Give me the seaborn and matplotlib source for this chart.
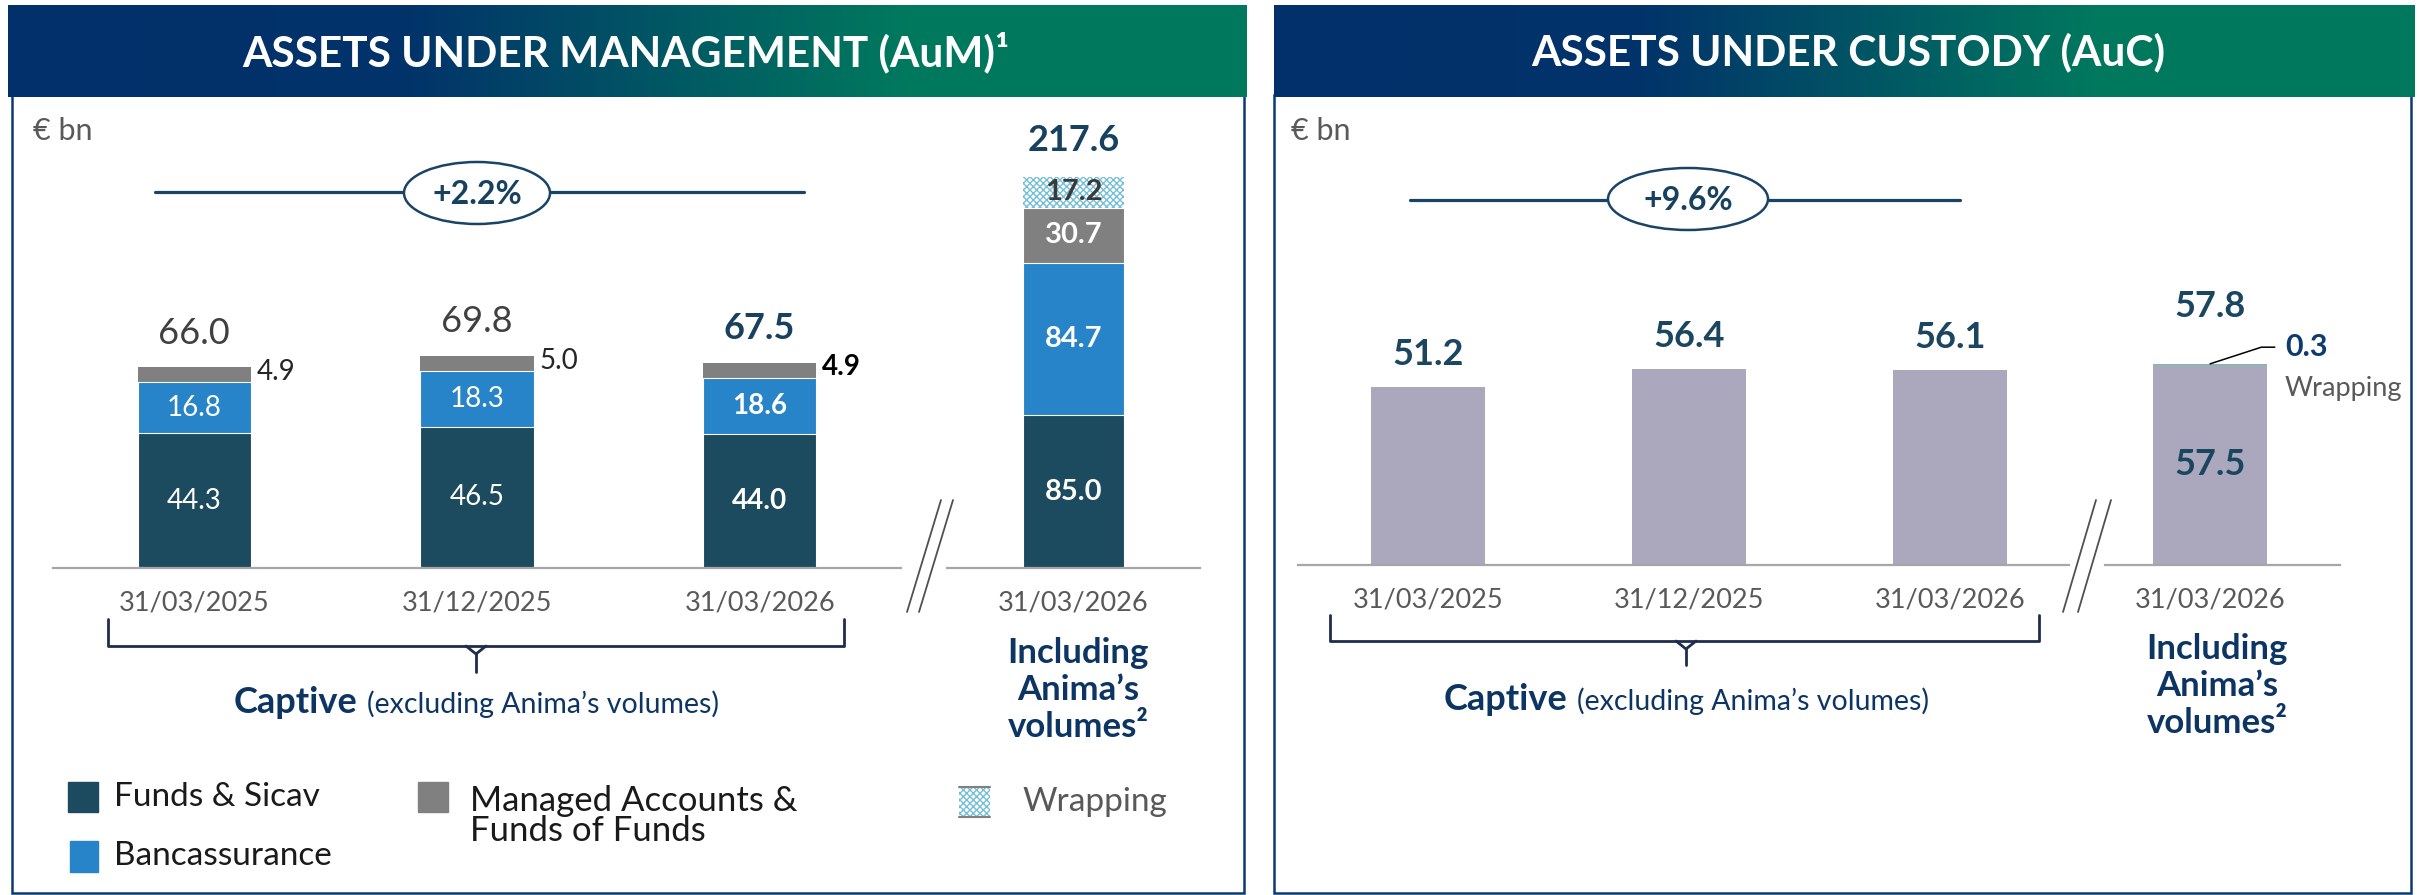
import numpy as np
import pandas as pd
import matplotlib
matplotlib.use("Agg")
import matplotlib.pyplot as plt
import seaborn as sns
from matplotlib.patches import Rectangle, Ellipse
from matplotlib.lines import Line2D
from matplotlib.colors import LinearSegmentedColormap

# ---------------- data (€ bn) ----------------
captive_dates = ["31/03/2025", "31/12/2025", "31/03/2026"]
total_dates = ["31/03/2026"]

aum_funds = [44.3, 46.5, 44.0]
aum_bancassurance = [16.8, 18.3, 18.6]
aum_managed = [4.9, 5.0, 4.9]
aum_totals = [66.0, 69.8, 67.5]

aum_all_funds = [85.0]
aum_all_bancassurance = [84.7]
aum_all_managed = [30.7]
aum_all_wrapping = [17.2]
aum_all_total = [217.6]

auc_captive = [51.2, 56.4, 56.1]
auc_all_base = [57.5]
auc_all_wrapping = [0.3]
auc_all_total = [57.8]

aum_growth = "+2.2%"
auc_growth = "+9.6%"

# ---------------- style ----------------
sns.set_theme(style="white")
plt.rcParams["font.family"] = ["Lato", "DejaVu Sans"]
plt.rcParams["hatch.linewidth"] = 1.0

C_FUNDS = "#1c4a5e"
C_BANC = "#2884c8"
C_MANAGED = "#808080"
C_WRAP = "#74bfd6"
C_AUC = "#aba8bd"
C_AUC_WRAP = "#6cc5a5"
NAVY = "#17415f"
NAVY2 = "#0d3563"
GREY_TXT = "#595959"
BORDER = "#0b3a6e"
WRAP_HATCH = "xxxxx"

W, H = 2419, 895
fig = plt.figure(figsize=(24.1901, 8.9501), dpi=100)
fig.patch.set_facecolor("white")

# overlay axes in pixel units (y downward) for frames, headers, brackets
ov = fig.add_axes([0, 0, 1, 1], zorder=0)
ov.axis("off")

band_cmap = LinearSegmentedColormap.from_list(
    "band", [(0, "#02306a"), (0.32, "#02336a"), (0.72, "#00785e"), (1, "#00795d")])
grad = np.linspace(0, 1, 512)[None, :]
for x0, x1 in [(8, 1246), (1274, 2414)]:
    ov.imshow(grad, cmap=band_cmap, extent=(x0, x1, 97, 6), aspect="auto",
              interpolation="bilinear", zorder=1)
ov.set_xlim(0, W)
ov.set_ylim(H, 0)

ov.add_patch(Rectangle((12, 95), 1232, 798, fill=False, ec=BORDER, lw=1.8, zorder=0))
ov.add_patch(Rectangle((1274, 95), 1137, 798, fill=False, ec=BORDER, lw=1.8, zorder=0))

ov.text(626, 52, "ASSETS UNDER MANAGEMENT (AuM)¹", color="white", fontsize=30.5,
        fontweight="bold", ha="center", va="center", zorder=3)
ov.text(1848, 52, "ASSETS UNDER CUSTODY (AuC)", color="white", fontsize=30.5,
        fontweight="bold", ha="center", va="center", zorder=3)

ov.text(33, 131, "€ bn", color=GREY_TXT, fontsize=22, ha="left", va="center")
ov.text(1291, 131, "€ bn", color=GREY_TXT, fontsize=22, ha="left", va="center")

# growth markers
for (lx0, lx1, ly, cx, cy, ew, eh, txt) in [
        (155, 804, 192, 477, 193, 146, 62, aum_growth),
        (1410, 1960, 200, 1688, 199, 160, 62, auc_growth)]:
    ov.add_line(Line2D([lx0, lx1], [ly, ly], color="#1a4466", lw=2.3, zorder=2))
    ov.add_patch(Ellipse((cx, cy), ew, eh, fc="white", ec="#1a4466", lw=1.8, zorder=3))
    ov.text(cx, cy + 1, txt, color=NAVY, fontsize=23, fontweight="bold",
            ha="center", va="center", zorder=4)

# axis breaks
for (xa, xb) in [(941, 907), (953, 919), (2096, 2063), (2111, 2078)]:
    ov.add_line(Line2D([xa, xb], [500, 612], color="#505050", lw=1.3, zorder=3))

# captive brackets
def bracket(x0, x1, xm, ytop, ybar, ytail):
    c = "#1f2d4d"
    ov.add_line(Line2D([x0, x0, x1, x1], [ytop, ybar, ybar, ytop], color=c, lw=2.0))
    ov.add_line(Line2D([xm - 10, xm, xm + 10], [ybar, ybar + 8, ybar], color=c, lw=2.0))
    ov.add_line(Line2D([xm, xm], [ybar + 8, ytail], color=c, lw=2.0))

bracket(108, 844, 476, 619, 646, 672)
bracket(1330, 2039, 1686, 615, 641, 665)

renderer = fig.canvas.get_renderer()


def composite(cx, cy, parts, gap=10):
    texts = [ov.text(0, cy, s, ha="left", va="baseline", **kw) for s, kw in parts]
    widths = [t.get_window_extent(renderer).width for t in texts]
    x = cx - (sum(widths) + gap * (len(texts) - 1)) / 2
    for t, w in zip(texts, widths):
        t.set_x(x)
        x += w + gap


for cx, cy in [(476, 713), (1686, 710)]:
    composite(cx, cy, [("Captive", dict(fontsize=26, fontweight="bold", color=NAVY2)),
                       ("(excluding Anima’s volumes)", dict(fontsize=20.5, color=NAVY2))])

for cx, cy in [(1078, 690), (2217, 686)]:
    ov.text(cx, cy, "Including\nAnima’s\nvolumes²", fontsize=25, fontweight="bold",
            color=NAVY2, ha="center", va="center", multialignment="center",
            linespacing=1.2)

# legend
ov.add_patch(Rectangle((68, 782), 30, 30, color=C_FUNDS))
ov.text(114, 797, "Funds & Sicav", fontsize=24, color="#1a1a1a", va="center")
ov.add_patch(Rectangle((70, 841), 28, 31, color=C_BANC))
ov.text(114, 856, "Bancassurance", fontsize=24, color="#1a1a1a", va="center")
ov.add_patch(Rectangle((418, 782), 30, 30, color=C_MANAGED))
ov.text(470, 816, "Managed Accounts &\nFunds of Funds", fontsize=25, color="#1a1a1a",
        va="center", linespacing=0.95)
ov.add_patch(Rectangle((959, 787), 31, 30, fc="white", ec=C_WRAP, hatch=WRAP_HATCH, lw=0))
ov.add_line(Line2D([959, 990], [787, 787], color="#808080", lw=1.5))
ov.add_line(Line2D([959, 990], [817, 817], color="#808080", lw=1.5))
ov.text(1022, 802, "Wrapping", fontsize=24, color=GREY_TXT, va="center")


# ---------------- bar axes ----------------
def make_ax(x0, x1, ytop, ybot):
    ax = fig.add_axes([x0 / W, 1 - ybot / H, (x1 - x0) / W, (ybot - ytop) / H], zorder=2)
    ax.patch.set_alpha(0)
    return ax


def style(ax, xlim, ylim):
    ax.set_xlim(*xlim)
    ax.set_ylim(*ylim)
    ax.set_xlabel("")
    ax.set_ylabel("")
    ax.set_yticks([])
    for s in ["top", "right", "left"]:
        ax.spines[s].set_visible(False)
    ax.spines["bottom"].set_color("#a6a6a6")
    ax.spines["bottom"].set_linewidth(1.6)
    ax.tick_params(axis="x", length=0, pad=16, labelsize=19.5, labelcolor=GREY_TXT)


def stack(ax, cats, layers, colors, width):
    tops = np.cumsum(np.array(layers, dtype=float), axis=0)
    conts = []
    for k in range(len(layers) - 1, -1, -1):
        df = pd.DataFrame({"date": cats, "value": tops[k]})
        sns.barplot(data=df, x="date", y="value", order=cats, color=colors[k],
                    saturation=1, width=width, errorbar=None, linewidth=0, ax=ax)
        conts.insert(0, ax.containers[-1])
    for cont in conts[:-1]:
        for p in cont:
            p.set_edgecolor("white")
            p.set_linewidth(0.8)
    return tops, conts


# AuM captive
ax1 = make_ax(53, 901, 100, 568)
tops1, _ = stack(ax1, captive_dates, [aum_funds, aum_bancassurance, aum_managed],
                 [C_FUNDS, C_BANC, C_MANAGED], 0.40)
style(ax1, (-0.5, 2.5), (0, 468 / 3.04))
for i in range(3):
    bold = i == 2
    fw = "bold" if bold else "normal"
    ax1.text(i, aum_funds[i] / 2, f"{aum_funds[i]:.1f}", color="white", fontsize=20,
             fontweight=fw, ha="center", va="center")
    ax1.text(i, tops1[0][i] + aum_bancassurance[i] / 2, f"{aum_bancassurance[i]:.1f}",
             color="white", fontsize=20, fontweight=fw, ha="center", va="center")
    ax1.annotate(f"{aum_managed[i]:.1f}", xy=(i + 0.2, tops1[1][i] + aum_managed[i] / 2),
                 xytext=(4.3, 2), textcoords="offset points", ha="left", va="center",
                 fontsize=20, fontweight=fw, color="black" if bold else "#262626")
    ax1.annotate(f"{aum_totals[i]:.1f}", xy=(i, tops1[2][i]), xytext=(0, 17),
                 textcoords="offset points", ha="center", va="baseline", fontsize=26,
                 fontweight=fw, color=NAVY if bold else "#404040")

# AuM including Anima
ax2 = make_ax(947, 1200, 100, 568)
tops2, conts2 = stack(ax2, total_dates,
                      [aum_all_funds, aum_all_bancassurance, aum_all_managed, aum_all_wrapping],
                      [C_FUNDS, C_BANC, C_MANAGED, "white"], 0.40)
for p in conts2[-1]:
    p.set_facecolor("white")
    p.set_edgecolor(C_WRAP)
    p.set_hatch(WRAP_HATCH)
    p.set_linewidth(0)
style(ax2, (-0.5, 0.5), (0, 468 / 1.797))
seg_vals = [aum_all_funds, aum_all_bancassurance, aum_all_managed, aum_all_wrapping]
seg_cols = ["white", "white", "white", "#3a3a3a"]
for k, (vals, col) in enumerate(zip(seg_vals, seg_cols)):
    base = tops2[k - 1][0] if k > 0 else 0
    ax2.text(0, base + vals[0] / 2, f"{vals[0]:.1f}", color=col, fontsize=21,
             fontweight="bold", ha="center", va="center")
ax2.annotate(f"{aum_all_total[0]:.1f}", xy=(0, tops2[-1][0]), xytext=(0, 19),
             textcoords="offset points", ha="center", va="baseline", fontsize=26,
             fontweight="bold", color=NAVY)

# AuC captive
ax3 = make_ax(1298, 2069, 100, 565)
df3 = pd.DataFrame({"date": captive_dates, "value": auc_captive})
sns.barplot(data=df3, x="date", y="value", order=captive_dates, color=C_AUC,
            saturation=1, width=0.437, errorbar=None, linewidth=0, ax=ax3)
style(ax3, (-0.498, 2.456), (0, 465 / 3.48))
for i, v in enumerate(auc_captive):
    ax3.annotate(f"{v:.1f}", xy=(i, v), xytext=(0, 16), textcoords="offset points",
                 ha="center", va="baseline", fontsize=26, fontweight="bold",
                 color="#1b4660")

# AuC including Anima
ax4 = make_ax(2105, 2340, 100, 565)
tops4, conts4 = stack(ax4, total_dates, [auc_all_base, auc_all_wrapping],
                      [C_AUC, C_AUC_WRAP], 0.485)
for cont in conts4:
    for p in cont:
        p.set_linewidth(0)
style(ax4, (-0.447, 0.553), (0, 465 / 3.48))
ax4.text(0, auc_all_base[0] / 2, f"{auc_all_base[0]:.1f}", color="#1b4660",
         fontsize=26, fontweight="bold", ha="center", va="center")
ax4.annotate(f"{auc_all_total[0]:.1f}", xy=(0, tops4[-1][0]), xytext=(0, 34),
             textcoords="offset points", ha="center", va="baseline", fontsize=26,
             fontweight="bold", color="#1b4660")
ax4.annotate(f"{auc_all_wrapping[0]:.1f}", xy=(0, tops4[-1][0]), xytext=(54, 12),
             textcoords="offset points", ha="left", va="center", fontsize=22,
             fontweight="bold", color="#0d3b6e",
             arrowprops=dict(arrowstyle="-", color="black", lw=1.1, shrinkA=5, shrinkB=0,
                             relpos=(0, 0.5),
                             connectionstyle="angle,angleA=0,angleB=18,rad=0"))
ax4.annotate("Wrapping", xy=(0, tops4[-1][0]), xytext=(54, -18),
             textcoords="offset points", ha="left", va="center", fontsize=19.5,
             color=GREY_TXT)

fig.savefig("out.png", dpi=100, facecolor="white")
